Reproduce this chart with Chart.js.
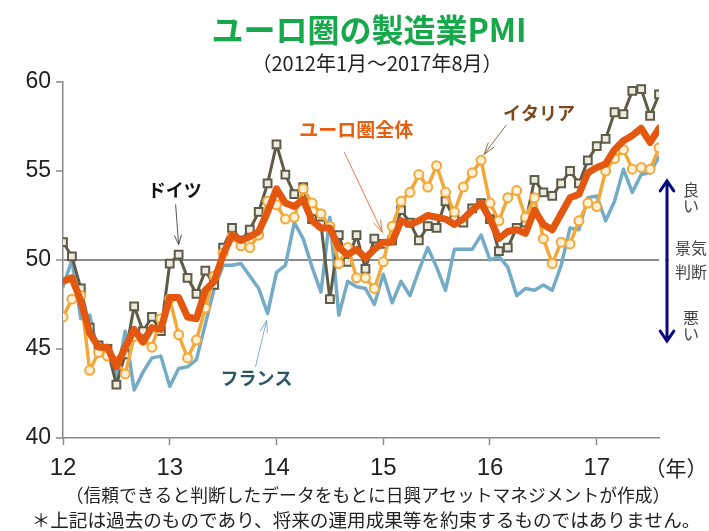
<!DOCTYPE html>
<html>
<head>
<meta charset="utf-8">
<script src="https://cdn.jsdelivr.net/npm/chart.js@4.4.0/dist/chart.umd.min.js"></script>
<style>
  html, body { margin: 0; padding: 0; background: #fff; }
  #wrap { width: 709px; height: 531px; }
</style>
</head>
<body>
<div id="wrap"><canvas id="chart" width="709" height="531"></canvas></div>
<script>
// 月次データ 2012年1月～2017年8月
const yearLabels = ["12", "13", "14", "15", "16", "17"];

const euroArea = [48.8,49.0,47.7,45.9,45.1,45.1,44.0,45.1,46.1,45.4,46.2,46.1,
  47.9,47.9,46.8,46.7,48.3,48.8,50.3,51.4,51.1,51.3,51.6,52.7,
  54.0,53.2,53.0,53.4,52.2,51.8,51.8,50.7,50.3,50.6,50.1,50.6,
  51.0,51.0,52.2,52.0,52.2,52.5,52.4,52.3,52.0,52.3,52.8,53.2,
  52.3,51.2,51.6,51.7,51.5,52.8,52.0,51.7,52.6,53.5,53.7,54.9,
  55.2,55.4,56.2,56.7,57.0,57.4,56.6,57.4];

const germany = [51.0,50.2,48.4,46.2,45.2,45.0,43.0,44.7,47.4,46.0,46.8,46.0,
  49.8,50.3,49.0,48.1,49.4,48.6,50.7,51.8,51.1,51.7,52.7,54.3,
  56.5,54.8,53.7,54.1,52.3,52.0,47.8,51.4,49.9,51.4,49.5,51.2,
  50.9,51.1,52.8,52.1,51.1,51.9,51.8,53.3,52.3,52.1,52.9,53.2,
  52.3,50.5,50.7,51.8,52.1,54.5,53.8,53.6,54.3,55.0,54.3,55.6,
  56.4,56.8,58.3,58.2,59.5,59.6,58.1,59.3];

const italy = [46.8,47.8,48.0,43.8,44.8,44.6,44.3,43.6,45.7,45.5,45.1,46.7,
  47.8,45.8,44.5,45.5,47.3,49.1,50.4,51.3,50.8,50.7,51.4,53.3,
  53.1,52.3,52.4,54.0,53.2,52.6,51.9,49.8,50.7,49.0,49.0,48.4,
  49.9,51.9,53.3,53.8,54.8,54.1,55.3,53.8,52.7,54.1,54.9,55.6,
  53.2,52.2,53.5,53.9,52.4,53.5,51.2,49.8,51.0,50.9,52.2,53.2,
  53.0,55.0,55.7,56.2,55.1,55.2,55.1,56.3];

const france = [48.5,50.0,46.7,46.9,44.7,45.2,43.4,46.0,42.7,43.7,44.5,44.6,
  42.9,43.9,44.0,44.4,46.4,48.4,49.7,49.7,49.8,49.1,48.4,47.0,
  49.3,49.7,52.1,51.2,49.6,48.2,52.4,46.9,48.8,48.5,48.4,47.5,
  49.2,47.6,48.8,48.0,49.4,50.7,49.6,48.3,50.6,50.6,50.6,51.4,
  50.0,50.2,49.6,48.0,48.4,48.3,48.6,48.3,49.7,51.8,51.7,53.5,
  53.6,52.2,53.3,55.1,53.8,54.8,54.9,55.8];

const JP = '"Noto Sans CJK JP", sans-serif';
const NUM = '"Liberation Sans", Arial, sans-serif';

function toXY(arr) {
  return arr.map((v, i) => ({ x: i, y: v }));
}

function arrow(ctx, x1, y1, x2, y2, color, width, head, spread) {
  const a = Math.atan2(y2 - y1, x2 - x1);
  ctx.save();
  ctx.strokeStyle = color;
  ctx.lineWidth = width;
  ctx.lineCap = "round";
  ctx.beginPath();
  ctx.moveTo(x1, y1);
  ctx.lineTo(x2, y2);
  ctx.moveTo(x2 - head * Math.cos(a - spread), y2 - head * Math.sin(a - spread));
  ctx.lineTo(x2, y2);
  ctx.lineTo(x2 - head * Math.cos(a + spread), y2 - head * Math.sin(a + spread));
  ctx.stroke();
  ctx.restore();
}

function text(ctx, str, x, y, font, color, align) {
  ctx.save();
  ctx.font = font;
  ctx.fillStyle = color;
  ctx.textAlign = align || "center";
  ctx.textBaseline = "middle";
  ctx.fillText(str, x, y);
  ctx.restore();
}

const decorations = {
  id: "decorations",
  afterDraw(chart) {
    const ctx = chart.ctx;
    const xs = chart.scales.x, ys = chart.scales.y;
    const pt = (arr, i) => ({ x: xs.getPixelForValue(i), y: ys.getPixelForValue(arr[i]) });

    // タイトル
    text(ctx, "ユーロ圏の製造業PMI", 369, 30, "bold 32px " + JP, "#17a84b");
    text(ctx, "（2012年1月～2017年8月）", 377, 63, "20px " + JP, "#222");

    // 年
    text(ctx, "（年）", 676, 468, "21px " + JP, "#222");

    // 注記
    text(ctx, "（信頼できると判断したデータをもとに日興アセットマネジメントが作成）", 368, 495, "17.8px " + JP, "#222");
    text(ctx, "＊上記は過去のものであり、将来の運用成果等を約束するものではありません。", 366, 520, "18.6px " + JP, "#222");

    // ドイツ
    let p = pt(germany, 13);
    arrow(ctx, p.x - 3, p.y - 50, p.x, p.y - 10, "#555", 1, 10, 0.35);
    text(ctx, "ドイツ", p.x - 4, p.y - 65, "bold 18px " + JP, "#111");

    // ユーロ圏全体
    p = pt(euroArea, 36);
    arrow(ctx, p.x - 39, p.y - 90, p.x - 1, p.y - 10, "#ee7a45", 1, 12, 0.3);
    text(ctx, "ユーロ圏全体", p.x - 27, p.y - 112, "bold 19px " + JP, "#e8600f");

    // イタリア
    p = pt(italy, 47);
    arrow(ctx, p.x + 25, p.y - 35, p.x + 3, p.y - 6, "#8a6a50", 1, 12, 0.3);
    text(ctx, "イタリア", p.x + 58, p.y - 47, "bold 18px " + JP, "#7a4a1e");

    // フランス
    p = pt(france, 23);
    arrow(ctx, p.x - 12, p.y + 53, p.x - 1, p.y + 7, "#7fb0c8", 1, 12, 0.3);
    text(ctx, "フランス", p.x - 11, p.y + 65, "bold 18px " + JP, "#2e5566");

    // 景気判断
    arrow(ctx, 667, 260, 667, 181, "#0a0a80", 3, 12, 0.6);
    arrow(ctx, 667, 260, 667, 341, "#0a0a80", 3, 12, 0.6);
    const side = "16px " + JP;
    text(ctx, "良", 691, 190, side, "#444");
    text(ctx, "い", 691, 206, side, "#444");
    text(ctx, "景気", 691, 248, side, "#444");
    text(ctx, "判断", 691, 272, side, "#444");
    text(ctx, "悪", 691, 318, side, "#444");
    text(ctx, "い", 691, 334, side, "#444");
  }
};

const chart = new Chart(document.getElementById("chart"), {
  type: "line",
  data: {
    datasets: [
      {
        label: "ユーロ圏全体",
        data: toXY(euroArea),
        borderColor: "#e4570f",
        borderWidth: 7,
        pointRadius: 0,
        order: 0
      },
      {
        label: "イタリア",
        data: toXY(italy),
        borderColor: "#f3a93a",
        borderWidth: 3.5,
        pointRadius: 4.5,
        pointBorderWidth: 2,
        pointBackgroundColor: "#fff0d8",
        pointBorderColor: "#f3a93a",
        order: 1
      },
      {
        label: "ドイツ",
        data: toXY(germany),
        borderColor: "#5e5b47",
        borderWidth: 3,
        pointStyle: "rect",
        pointRadius: 5.5,
        pointBorderWidth: 2,
        pointBackgroundColor: "#ecebe2",
        pointBorderColor: "#5e5b47",
        order: 2
      },
      {
        label: "フランス",
        data: toXY(france),
        borderColor: "#74abc6",
        borderWidth: 3.5,
        pointRadius: 0,
        order: 3
      }
    ]
  },
  options: {
    responsive: false,
    animation: false,
    devicePixelRatio: 1,
    layout: { padding: { top: 82, right: 50, left: 0, bottom: 0 } },
    elements: { line: { tension: 0, borderJoinStyle: "round", borderCapStyle: "round" } },
    plugins: {
      legend: { display: false },
      title: { display: false },
      tooltip: { enabled: false }
    },
    scales: {
      x: {
        type: "linear",
        min: 0,
        max: euroArea.length - 1,
        afterFit: s => { s.height = 93; },
        afterBuildTicks: s => { s.ticks = yearLabels.map((_, i) => ({ value: i * 12 })); },
        ticks: {
          autoSkip: false,
          maxRotation: 0,
          padding: 9,
          color: "#222",
          font: { family: NUM, size: 24 },
          callback: v => yearLabels[v / 12]
        },
        grid: { drawOnChartArea: false, tickLength: 7, tickColor: "#8a8a8a", tickWidth: 1.5 },
        border: { color: "#8a8a8a", width: 1.5 }
      },
      y: {
        min: 40,
        max: 60,
        afterFit: s => { s.width = 63; },
        ticks: {
          stepSize: 5,
          padding: 5,
          color: "#222",
          font: { family: NUM, size: 23 }
        },
        grid: {
          drawOnChartArea: true,
          color: c => (c.tick && c.tick.value === 50 ? "#8c8c8c" : "rgba(0,0,0,0)"),
          lineWidth: 2,
          tickLength: 7,
          tickColor: "#8a8a8a",
          tickWidth: 1.5
        },
        border: { color: "#8a8a8a", width: 1.5 }
      }
    }
  },
  plugins: [decorations]
});
</script>
</body>
</html>
